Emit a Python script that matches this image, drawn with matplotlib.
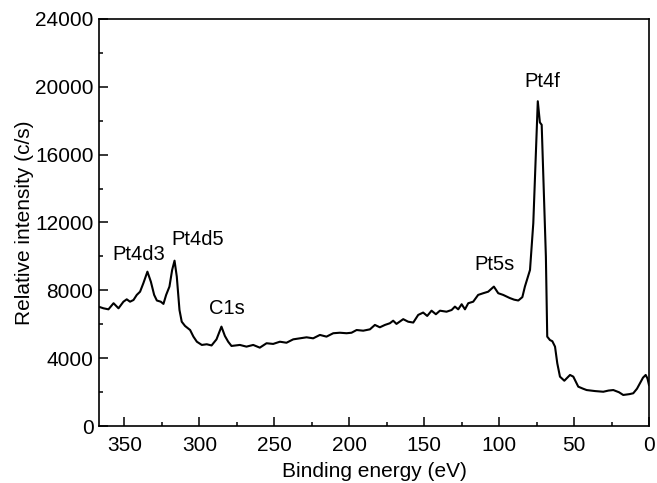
import matplotlib
matplotlib.use("Agg")
import matplotlib.pyplot as plt
from matplotlib.ticker import MultipleLocator

plt.rcParams['font.family'] = ['Liberation Sans', 'DejaVu Sans']

# binding energy (eV) and counts
energy = [367.4, 364, 360.7, 357.3, 355.1, 354, 350.7, 348.5, 346.3, 344,
          341.8, 339.6, 337.4, 334.7, 332.4, 330.2, 328.4, 325.8, 324, 322.2,
          320, 318.2, 316.6, 315.1, 313.3, 311.8, 309.6, 306.2, 304, 301.7,
          298.4, 295.1, 291.9, 288.6, 285.3, 283, 280.8, 278.6, 273, 268.6,
          264.1, 259.7, 255.2, 250.8, 246.3, 241.9, 237.4, 233, 228.5, 224.1,
          219.6, 215.2, 210.7, 206.3, 201.8, 198.5, 195.1, 190.7, 186.2, 182.9,
          179.6, 176.2, 172.9, 170.7, 168.5, 164, 160.7, 157.3, 154, 150.7,
          148, 145.1, 142.2, 139.5, 135.1, 131.7, 129.5, 127.3, 125, 122.8,
          120.6, 117.3, 114, 110.6, 107.3, 103.5, 100.6, 97.3, 93, 90,
          87.2, 84.5, 82.8, 79.4, 77.2, 75.6, 74.2, 72.8, 71.6, 70.6,
          68.8, 67.9, 66.1, 64.5, 62.7, 61.2, 59.4, 56.5, 54.5, 52.7,
          50.5, 47.2, 44, 41.6, 36, 30.5, 27, 23.8, 20, 17.2,
          13, 10.5, 8, 6, 4, 2.2, 1, 0]
counts = [7040, 6940, 6880, 7240, 7040, 6940, 7330, 7470, 7330, 7430,
          7730, 7920, 8420, 9100, 8510, 7730, 7400, 7330, 7200, 7730,
          8220, 9200, 9750, 8810, 6840, 6150, 5900, 5660, 5270, 4970,
          4780, 4820, 4750, 5110, 5860, 5310, 4970, 4720, 4780, 4680,
          4780, 4620, 4880, 4840, 4970, 4910, 5110, 5170, 5230, 5170,
          5370, 5270, 5470, 5500, 5470, 5500, 5660, 5620, 5700, 5960,
          5820, 5960, 6060, 6210, 6020, 6300, 6150, 6100, 6550, 6690,
          6490, 6800, 6590, 6800, 6740, 6840, 7040, 6880, 7180, 6880,
          7240, 7330, 7730, 7830, 7920, 8220, 7830, 7730, 7550, 7450,
          7400, 7600, 8220, 9200, 11960, 15890, 19150, 17900, 17760, 14910,
          9990, 5270, 5070, 5000, 4680, 3700, 2910, 2670, 2850, 3010,
          2910, 2320, 2200, 2120, 2060, 2020, 2090, 2120, 1990, 1830,
          1880, 1930, 2200, 2520, 2850, 3010, 2800, 2420]

# peak labels
peak_names = ['Pt4d3', 'Pt4d5', 'C1s', 'Pt5s', 'Pt4f']
peak_x = [340.6, 301.0, 281.7, 102.8, 70.9]
peak_y = [10090, 10970, 6940, 9500, 20310]

fig = plt.figure(figsize=(6.57, 4.83), dpi=100)
ax = fig.add_axes([0.1507, 0.118, 0.8371, 0.8427])

ax.plot(energy, counts, color='black', linewidth=1.5)

for name, x, y in zip(peak_names, peak_x, peak_y):
    ax.text(x, y, name, fontsize=14.5, ha='center', va='center')

ax.set_xlim(367, 0)
ax.set_ylim(0, 24000)
ax.xaxis.set_major_locator(MultipleLocator(50))
ax.xaxis.set_minor_locator(MultipleLocator(25))
ax.yaxis.set_major_locator(MultipleLocator(4000))
ax.yaxis.set_minor_locator(MultipleLocator(2000))
ax.tick_params(which='both', direction='in', labelsize=15, width=1.1)
ax.tick_params(which='major', length=6.5)
ax.tick_params(axis='x', which='major', pad=7)
ax.tick_params(axis='y', which='major', pad=4)
ax.tick_params(which='minor', length=3.2)
for sp in ax.spines.values():
    sp.set_linewidth(1.2)

ax.set_xlabel('Binding energy (eV)', fontsize=15, labelpad=5)
ax.set_ylabel('Relative intensity (c/s)', fontsize=15, labelpad=1)

fig.savefig('out.png', dpi=100)
